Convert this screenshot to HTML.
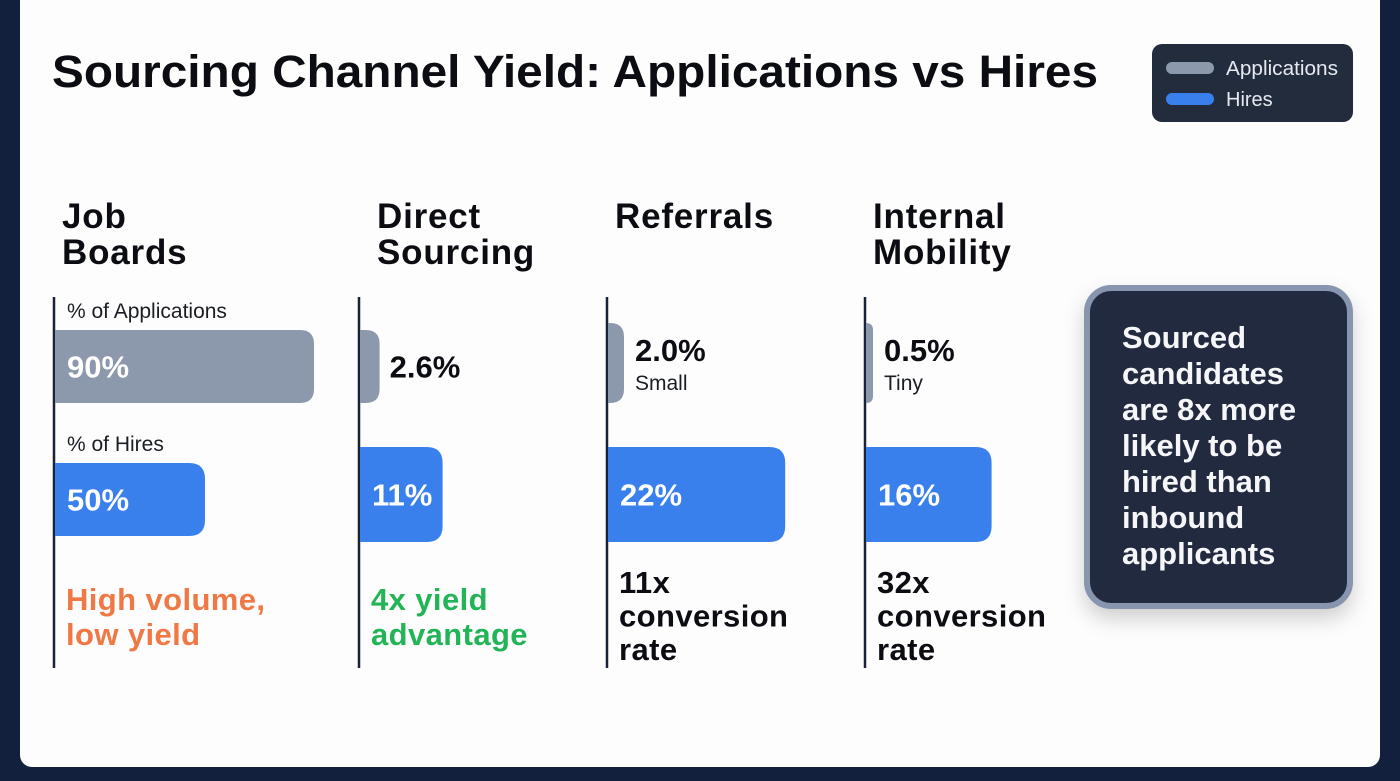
<!DOCTYPE html>
<html><head><meta charset="utf-8"><style>
html,body{margin:0;padding:0;background:#13203d;}
svg{display:block;font-family:"Liberation Sans",Arial,sans-serif;}
</style></head><body>
<svg id="chart" width="1400" height="781" viewBox="0 0 1400 781">
<defs><filter id="sh" x="-20%" y="-20%" width="140%" height="150%"><feDropShadow dx="0" dy="10" stdDeviation="10" flood-color="#000" flood-opacity="0.18"/></filter></defs>
<rect x="0" y="0" width="1400" height="781" fill="#13203d"/>
<rect x="20" y="-20" width="1360" height="787" rx="12" fill="#fdfdfd"/>
<text x="52" y="87" font-size="45" font-weight="700" fill="#0b0d12" textLength="1046" lengthAdjust="spacingAndGlyphs">Sourcing Channel Yield: Applications vs Hires</text>
<g>
<rect x="1152" y="44" width="201" height="78" rx="10" fill="#232c3d"/>
<rect x="1166" y="62" width="48" height="12" rx="6" fill="#8c99ad"/>
<text x="1226" y="75" font-size="20" fill="#e6e9ef" textLength="112" lengthAdjust="spacingAndGlyphs">Applications</text>
<rect x="1166" y="93" width="48" height="12" rx="6" fill="#3a80ec"/>
<text x="1226" y="106" font-size="20" fill="#e6e9ef">Hires</text>
</g>
<g id="panels"></g>
<g filter="url(#sh)">
<rect x="1087" y="288" width="263" height="318" rx="24" fill="#212c40" stroke="#8796ae" stroke-width="6"/>
</g>
<text font-size="31" font-weight="700" fill="#f5f6f8">
<tspan x="1122" y="348">Sourced</tspan><tspan x="1122" y="384">candidates</tspan><tspan x="1122" y="420">are 8x more</tspan><tspan x="1122" y="456">likely to be</tspan><tspan x="1122" y="492">hired than</tspan><tspan x="1122" y="528">inbound</tspan><tspan x="1122" y="564">applicants</tspan>
</text>
</svg>
<script>
const channels = ["Job Boards", "Direct Sourcing", "Referrals", "Internal Mobility"];
const headerLines = [["Job","Boards"],["Direct","Sourcing"],["Referrals"],["Internal","Mobility"]];
const applications = [90, 2.6, 2.0, 0.5];
const hires = [50, 11, 22, 16];
const appLabels = ["90%", "2.6%", "2.0%", "0.5%"];
const hireLabels = ["50%", "11%", "22%", "16%"];
const appNotes = ["", "", "Small", "Tiny"];
const notes = [["High volume,","low yield"],["4x yield","advantage"],["11x","conversion","rate"],["32x","conversion","rate"]];
const noteColors = ["#f07844","#22b456","#0b0d12","#0b0d12"];

const NS = "http://www.w3.org/2000/svg";
const panelX = [54, 359, 607, 865];
const headerOffset = [8, 18, 8, 8];
const hireMaxW = [150, 200, 200, 200];
function xApp(v){ return Math.min(259, 4 + 6 * v); }
function xHire(v, i){ return Math.min(hireMaxW[i], 8.6 * v - 12); }
function mk(tag, attrs, parent){ const e=document.createElementNS(NS,tag); for(const k in attrs) e.setAttribute(k,attrs[k]); parent.appendChild(e); return e; }
function roundRight(x,y,w,h,r){ r=Math.min(r,w,h/2); return `M${x},${y}H${x+w-r}Q${x+w},${y} ${x+w},${y+r}V${y+h-r}Q${x+w},${y+h} ${x+w-r},${y+h}H${x}Z`; }
const root = document.getElementById("panels");
channels.forEach((c,i)=>{
  const x0 = panelX[i];
  const g = mk("g",{},root);
  
  
  headerLines[i].forEach((ln,j)=>{
    const t = mk("text",{x:x0+headerOffset[i],y:228+j*36,"font-size":35,"font-weight":700,fill:"#0b0d12","letter-spacing":0.8},g);
    t.textContent = ln;
    
    
  });
  const ax = mk("line",{x1:x0,y1:297,x2:x0,y2:668,stroke:"#1a2238","stroke-width":2.5},g);
  
  
  const big = i===0;
  if(big){
    const l1 = mk("text",{x:x0+13,y:318,"font-size":21,fill:"#1a1d24"},g); l1.textContent="% of Applications";
    
    
    const l2 = mk("text",{x:x0+13,y:451,"font-size":21,fill:"#1a1d24"},g); l2.textContent="% of Hires";
    
    
  }
  const aY = big||i===1 ? 330 : 323, aH = big||i===1 ? 73 : 80;
  const aw = xApp(applications[i]);
  const ab = mk("path",{d:roundRight(x0+1,aY,aw,aH,14),fill:"#8c99ad"},g);
  
  
  const at = mk("text",{"font-size":31,"font-weight":700},g);
  
  
  at.textContent = appLabels[i];
  if(aw > 80){ at.setAttribute("x",x0+13); at.setAttribute("y",aY+aH/2+11); at.setAttribute("fill","#fff"); }
  else if(appNotes[i]){ at.setAttribute("x",x0+aw+12); at.setAttribute("y",361); at.setAttribute("fill","#0b0d12");
    const s = mk("text",{x:x0+aw+12,y:390,"font-size":21,fill:"#1a1d24"},g); s.textContent=appNotes[i];
    
    
  } else { at.setAttribute("x",x0+aw+11); at.setAttribute("y",aY+aH/2+11); at.setAttribute("fill","#0b0d12"); }
  const hY = big ? 463 : 447, hH = big ? 73 : 95;
  const hw = xHire(hires[i], i);
  const hb = mk("path",{d:roundRight(x0+1,hY,hw,hH,16),fill:"#3a80ec"},g);
  
  
  const ht = mk("text",{x:x0+13,y:hY+hH/2+11,"font-size":31,"font-weight":700,fill:"#fff"},g);
  ht.textContent = hireLabels[i];
  
  
  const n = notes[i];
  const startY = n.length===2 ? 610 : 593;
  n.forEach((ln,j)=>{
    const t = mk("text",{x:x0+12,y:startY+j*(n.length===2?35:33.5),"font-size":31,"font-weight":700,fill:noteColors[i],"letter-spacing":0.4},g);
    t.textContent = ln;
    
    
  });
});
</script>
</body></html>
